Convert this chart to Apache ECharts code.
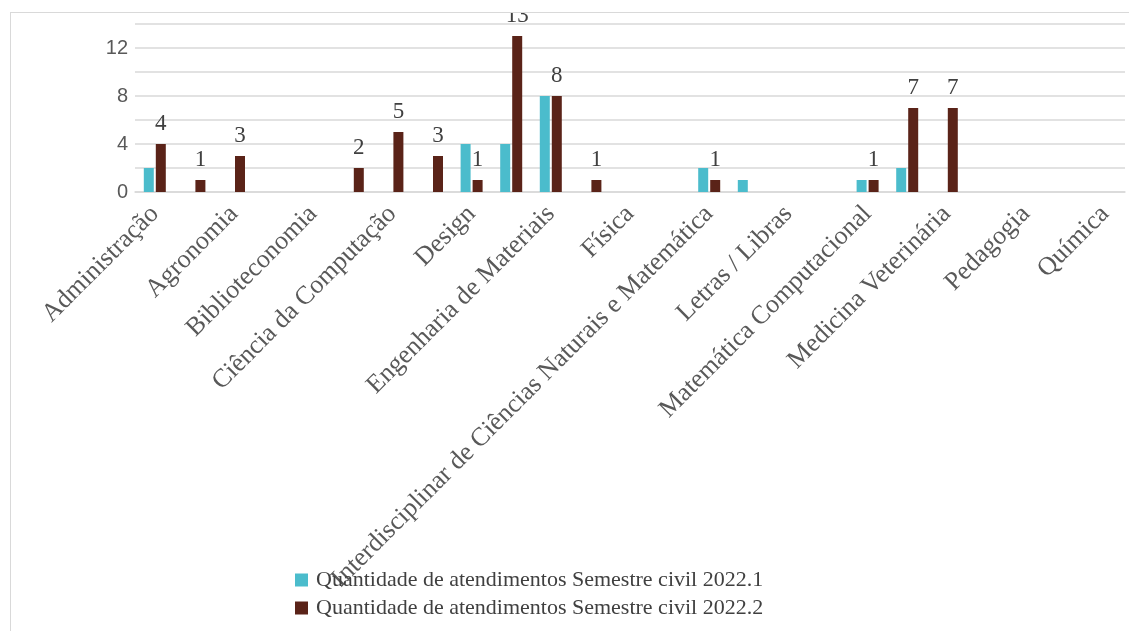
<!DOCTYPE html>
<html>
<head>
<meta charset="utf-8">
<script src="https://cdn.jsdelivr.net/npm/echarts@6/dist/echarts.min.js"></script>
<style>
  html, body { margin: 0; padding: 0; background: #fff; }
  #frame {
    position: absolute; left: 10px; top: 12px; right: 0; bottom: 0;
    overflow: hidden;
    border-left: 1px solid #d9d9d9; border-top: 1px solid #d9d9d9;
  }
  #chart { position: absolute; left: -11px; top: -13px; width: 1129px; height: 631px; }
</style>
</head>
<body>
<div id="frame"><div id="chart"></div></div>
<script>
// Cursos (só os de índice par aparecem no eixo, como no original)
var categories = [
  'Administração', 'Administração Pública e Gestão Social', 'Agronomia', 'Artes Visuais',
  'Biblioteconomia', 'Biologia', 'Ciência da Computação', 'Ciências Contábeis',
  'Design', 'Engenharia Civil', 'Engenharia de Materiais', 'Filosofia',
  'Física', 'História', 'Interdisciplinar de Ciências Naturais e Matemática', 'Jornalismo',
  'Letras / Libras', 'Matemática', 'Matemática Computacional', 'Medicina',
  'Medicina Veterinária', 'Música', 'Pedagogia', 'Psicologia', 'Química'
];

var seriesNames = [
  'Quantidade de atendimentos Semestre civil 2022.1',
  'Quantidade de atendimentos Semestre civil 2022.2'
];

var sem2022_1 = [2, 0, 0, 0, 0, 0, 0, 0, 4, 4, 8, 0, 0, 0, 2, 1, 0, 0, 1, 2, 0, 0, 0, 0, 0];
var sem2022_2 = [4, 1, 3, 0, 0, 2, 5, 3, 1, 13, 8, 1, 0, 0, 1, 0, 0, 0, 1, 7, 7, 0, 0, 0, 0];

var chart = echarts.init(document.getElementById('chart'));

var serif = '"Liberation Serif", "Times New Roman", serif';

var option = {
  animation: false,
  grid: { left: 135, right: 4, top: 24, height: 168, containLabel: false },
  legend: {
    orient: 'vertical',
    left: 290,
    top: 564,
    itemWidth: 13,
    itemHeight: 13,
    itemGap: 6,
    icon: 'rect',
    textStyle: { fontFamily: serif, fontSize: 22, color: '#404040', padding: [0, 0, 0, 3] },
    data: seriesNames
  },
  xAxis: {
    type: 'category',
    data: categories,
    axisLine: { lineStyle: { color: '#d9d9d9', width: 1.5 } },
    axisTick: { show: false },
    axisLabel: {
      interval: 1,
      rotate: 45,
      margin: 18,
      fontFamily: serif,
      fontSize: 26,
      color: '#595959'
    }
  },
  yAxis: {
    type: 'value',
    min: 0,
    max: 14,
    interval: 2,
    axisLine: { show: false },
    axisTick: { show: false },
    splitLine: { lineStyle: { color: '#d9d9d9', width: 1.5 } },
    axisLabel: {
      margin: 7,
      fontFamily: '"Liberation Sans", Arial, sans-serif',
      fontSize: 20,
      color: '#595959',
      formatter: function (v) { return v % 4 === 0 ? String(v) : ''; }
    }
  },
  series: [
    {
      name: seriesNames[0],
      type: 'bar',
      data: sem2022_1,
      barWidth: 10,
      barGap: '20%',
      itemStyle: { color: '#4bbccc' }
    },
    {
      name: seriesNames[1],
      type: 'bar',
      data: sem2022_2,
      barWidth: 10,
      itemStyle: { color: '#5a2318' },
      label: {
        show: true,
        position: 'top',
        distance: 9,
        fontFamily: serif,
        fontSize: 23,
        color: '#404040',
        formatter: function (p) { return p.value ? String(p.value) : ''; }
      }
    }
  ]
};

chart.setOption(option);
</script>
</body>
</html>
